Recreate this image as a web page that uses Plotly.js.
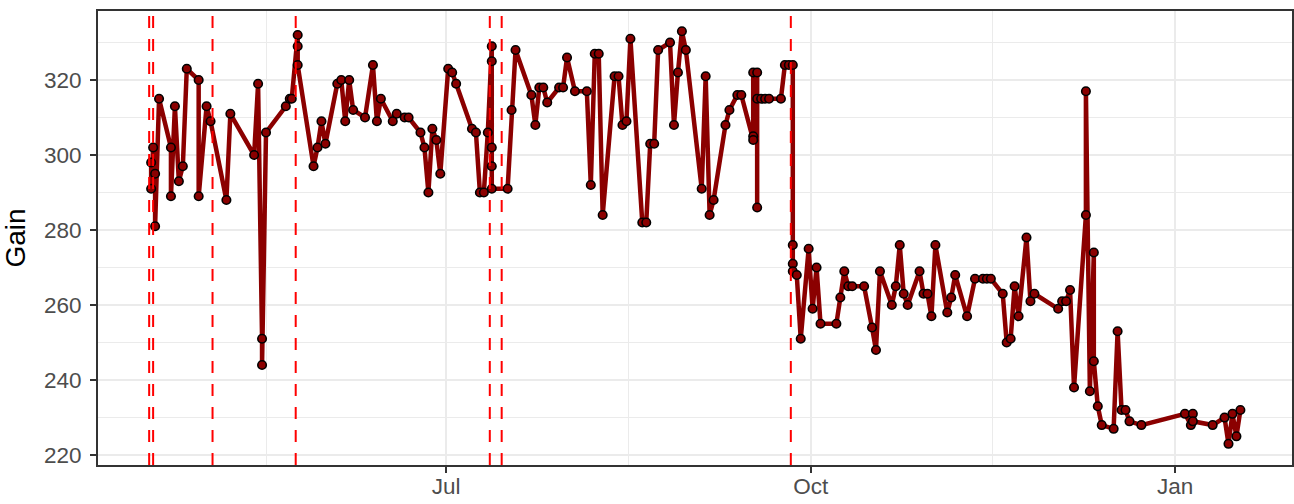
<!DOCTYPE html>
<html>
<head>
<meta charset="utf-8">
<script src="https://cdn.plot.ly/plotly-3.0.1.min.js"></script>
<style>
  html, body { margin: 0; padding: 0; background: #ffffff; }
  #chart { width: 1294px; height: 504px; }
</style>
</head>
<body>
<div id="chart"></div>
<script>
// ---- Data ----
const dates = [
  "2021-04-17 12:00","2021-04-17 12:00","2021-04-18 00:00","2021-04-18 12:00","2021-04-18 12:00","2021-04-19 12:00",
  "2021-04-22 12:00","2021-04-22 12:00","2021-04-23 12:00","2021-04-24 12:00","2021-04-25 12:00","2021-04-26 12:00",
  "2021-04-29 12:00","2021-04-29 12:00","2021-05-01 12:00","2021-05-02 12:00","2021-05-06 12:00","2021-05-07 12:00",
  "2021-05-13 12:00","2021-05-14 12:00","2021-05-15 12:00","2021-05-15 12:00","2021-05-16 12:00",
  "2021-05-21 12:00","2021-05-22 12:00","2021-05-23 00:00","2021-05-24 12:00","2021-05-24 12:00","2021-05-24 12:00",
  "2021-05-28 12:00","2021-05-29 12:00","2021-05-30 12:00","2021-05-31 12:00","2021-06-03 12:00","2021-06-04 12:00",
  "2021-06-05 12:00","2021-06-06 12:00","2021-06-07 12:00","2021-06-10 12:00","2021-06-12 12:00","2021-06-13 12:00",
  "2021-06-14 12:00","2021-06-17 12:00","2021-06-18 12:00","2021-06-20 12:00","2021-06-21 12:00","2021-06-24 12:00",
  "2021-06-25 12:00","2021-06-26 12:00","2021-06-27 12:00","2021-06-28 12:00","2021-06-29 12:00","2021-07-01 12:00",
  "2021-07-02 12:00","2021-07-03 12:00","2021-07-07 12:00","2021-07-08 12:00","2021-07-09 12:00","2021-07-10 12:00",
  "2021-07-11 12:00","2021-07-12 12:00","2021-07-12 12:00","2021-07-12 12:00","2021-07-12 12:00","2021-07-12 12:00",
  "2021-07-16 12:00","2021-07-17 12:00","2021-07-18 12:00","2021-07-22 12:00","2021-07-23 12:00","2021-07-24 12:00",
  "2021-07-25 12:00","2021-07-26 12:00","2021-07-29 12:00","2021-07-30 12:00","2021-07-31 12:00","2021-08-02 12:00",
  "2021-08-05 12:00","2021-08-06 12:00","2021-08-07 12:00","2021-08-08 12:00","2021-08-09 12:00","2021-08-12 12:00",
  "2021-08-13 12:00","2021-08-14 12:00","2021-08-15 12:00","2021-08-16 12:00","2021-08-19 12:00","2021-08-20 12:00",
  "2021-08-21 12:00","2021-08-22 12:00","2021-08-23 12:00","2021-08-26 12:00","2021-08-27 12:00","2021-08-28 12:00",
  "2021-08-29 12:00","2021-08-30 12:00","2021-09-03 12:00","2021-09-04 12:00","2021-09-05 12:00","2021-09-06 12:00",
  "2021-09-09 12:00","2021-09-10 12:00","2021-09-12 12:00","2021-09-13 12:00","2021-09-16 12:00","2021-09-16 12:00",
  "2021-09-16 12:00","2021-09-17 12:00","2021-09-17 12:00","2021-09-17 12:00","2021-09-18 12:00","2021-09-19 12:00",
  "2021-09-20 12:00","2021-09-23 12:00","2021-09-24 12:00","2021-09-25 12:00","2021-09-26 12:00","2021-09-26 12:00",
  "2021-09-26 12:00","2021-09-26 12:00","2021-09-27 12:00","2021-09-28 12:00","2021-09-30 12:00","2021-10-01 12:00",
  "2021-10-02 12:00","2021-10-03 12:00","2021-10-07 12:00","2021-10-08 12:00","2021-10-09 12:00","2021-10-10 12:00",
  "2021-10-11 12:00","2021-10-14 12:00","2021-10-16 12:00","2021-10-17 12:00","2021-10-18 12:00","2021-10-21 12:00",
  "2021-10-22 12:00","2021-10-23 12:00","2021-10-24 12:00","2021-10-25 12:00","2021-10-28 12:00","2021-10-29 12:00",
  "2021-10-30 12:00","2021-10-31 12:00","2021-11-01 12:00","2021-11-04 12:00","2021-11-05 12:00","2021-11-06 12:00",
  "2021-11-09 12:00","2021-11-11 12:00","2021-11-13 12:00","2021-11-14 12:00","2021-11-15 12:00","2021-11-18 12:00",
  "2021-11-19 12:00","2021-11-20 12:00","2021-11-21 12:00","2021-11-22 12:00","2021-11-24 12:00","2021-11-25 12:00",
  "2021-11-26 12:00","2021-12-02 12:00","2021-12-03 12:00","2021-12-04 12:00","2021-12-05 12:00","2021-12-06 12:00",
  "2021-12-09 12:00","2021-12-09 12:00","2021-12-10 12:00","2021-12-11 12:00","2021-12-11 12:00","2021-12-12 12:00",
  "2021-12-13 12:00","2021-12-16 12:00","2021-12-17 12:00","2021-12-18 12:00","2021-12-19 12:00","2021-12-20 12:00",
  "2021-12-23 12:00","2022-01-03 12:00","2022-01-05 00:00","2022-01-05 12:00","2022-01-05 12:00","2022-01-10 12:00",
  "2022-01-13 12:00","2022-01-14 12:00","2022-01-15 12:00","2022-01-16 12:00","2022-01-17 12:00"
];
const gain = [
  298,291,302,295,281,315,
  302,289,313,293,297,323,
  320,289,313,309,288,311,
  300,319,251,244,306,
  313,315,315,332,329,324,
  297,302,309,303,319,320,
  309,320,312,310,324,309,
  315,309,311,310,310,306,
  302,290,307,304,295,323,
  322,319,307,306,290,290,
  306,329,325,302,297,291,
  291,312,328,316,308,318,
  318,314,318,318,326,317,
  317,292,327,327,284,321,
  321,308,309,331,282,282,
  303,303,328,330,308,322,
  333,328,291,321,284,288,
  308,312,316,316,305,304,
  322,322,286,315,315,315,
  315,315,324,324,324,276,
  271,269,268,251,275,259,
  270,255,255,262,269,265,
  265,265,254,248,269,260,
  265,276,263,260,269,263,
  263,257,276,258,262,268,
  257,267,267,267,267,263,
  250,251,265,257,278,261,
  263,259,261,261,264,238,
  284,317,237,274,245,233,
  228,227,253,232,232,229,
  228,231,228,231,229,228,
  230,223,231,225,232
];
// Dates marked with dashed red vertical lines
const eventDates = ["2021-04-17","2021-04-18","2021-05-03","2021-05-24","2021-07-12","2021-07-15","2021-09-26"];
// Axis ticks
const xTickVals = ["2021-07-01","2021-10-01","2022-01-01"];
const xTickText = ["Jul","Oct","Jan"];
const xMinorVals = ["2021-05-16 12:00","2021-08-16","2021-11-16"];
const yTickVals = [220,240,260,280,300,320];
const yMinorVals = [230,250,270,290,310,330];

// ---- Plot ----
const FONT = "Liberation Sans, Arial, Helvetica, sans-serif";

const trace = {
  x: dates,
  y: gain,
  type: "scatter",
  mode: "lines+markers",
  line: { color: "#8B0000", width: 4.5 },
  marker: { color: "#8B0000", size: 8.5, line: { color: "#000000", width: 1.6 } },
  hoverinfo: "x+y",
  showlegend: false
};

const shapes = eventDates.map(d => ({
  type: "line", xref: "x", yref: "paper",
  x0: d, x1: d, y0: 0, y1: 1,
  line: { color: "#FF0000", width: 2, dash: "12px,11px" },
  layer: "above"
}));

const layout = {
  width: 1294, height: 504,
  margin: { l: 98, r: 2, t: 11, b: 39, pad: 0 },
  paper_bgcolor: "#ffffff",
  plot_bgcolor: "#ffffff",
  font: { family: FONT, color: "#4D4D4D", size: 22 },
  showlegend: false,
  xaxis: {
    type: "date",
    range: ["2021-04-04 02:00", "2022-01-30 12:45"],
    tickmode: "array",
    tickvals: xTickVals,
    ticktext: xTickText,
    tickfont: { family: FONT, size: 22.5, color: "#4D4D4D" },
    ticks: "outside", ticklen: 6, tickwidth: 2, tickcolor: "#333333",
    showgrid: true, gridcolor: "#EBEBEB", gridwidth: 2,
    minor: { tickmode: "array", tickvals: xMinorVals, showgrid: true, gridcolor: "#EBEBEB", gridwidth: 1, ticklen: 0 },
    showline: true, linecolor: "#333333", linewidth: 2, mirror: true,
    zeroline: false,
    automargin: false,
    ticklabelstandoff: -6
  },
  yaxis: {
    range: [217.35, 338.4],
    tickmode: "array",
    tickvals: yTickVals,
    ticktext: yTickVals.map(String),
    tickfont: { family: FONT, size: 22.5, color: "#4D4D4D" },
    ticks: "outside", ticklen: 6, tickwidth: 2, tickcolor: "#333333",
    showgrid: true, gridcolor: "#EBEBEB", gridwidth: 2,
    minor: { tickmode: "array", tickvals: yMinorVals, showgrid: true, gridcolor: "#EBEBEB", gridwidth: 1, ticklen: 0 },
    showline: true, linecolor: "#333333", linewidth: 2, mirror: true,
    zeroline: false,
    automargin: false,
    ticklabelstandoff: 4,
    title: { text: "Gain", font: { family: FONT, size: 28, color: "#000000" }, standoff: 10 }
  },
  shapes: shapes
};

Plotly.newPlot("chart", [trace], layout, { displayModeBar: false, staticPlot: true });
</script>
</body>
</html>
